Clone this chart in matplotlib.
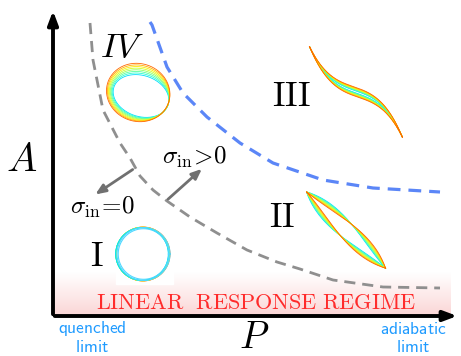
import numpy as np
import matplotlib
matplotlib.use("Agg")
import matplotlib.pyplot as plt
from matplotlib.colors import LinearSegmentedColormap

plt.rcParams['mathtext.fontset'] = 'cm'

# ============================================================
# SCHEMATIC DATA (canvas pixel coordinates, y pointing down)
# ============================================================
gray_x = [90, 93, 103, 120, 130, 140, 153, 167, 190, 217, 247, 277, 300, 333, 383, 440]
gray_y = [23, 60, 110, 143, 158, 176, 190, 201, 217, 233, 250, 262, 269, 280, 287, 288]

blue_x = [150, 152, 167, 183, 207, 240, 273, 323, 373, 440]
blue_y = [22, 25, 67, 93, 117, 143, 163, 180, 188, 192]

region_labels = [r'$\mathrm{I}$', r'$\mathrm{II}$', r'$\mathrm{III}$', r'$IV$']
region_x = [97, 282, 291, 122]
region_y = [256, 217, 96, 47]

# colour positions on the jet map, innermost (cyan) to outermost (orange)
loop_colors = [0.34, 0.4, 0.46, 0.53, 0.6, 0.66, 0.72, 0.8]

# ============================================================
# FIGURE
# ============================================================
fig = plt.figure(figsize=(4.61, 3.56), dpi=100)
ax = fig.add_axes([0, 0, 1, 1])
ax.set_xlim(0, 461)
ax.set_ylim(356, 0)
ax.axis('off')

cmap = plt.get_cmap('jet')

# pink linear-response band
pink = LinearSegmentedColormap.from_list('pk', ['#ffffff', '#fbd6d6'])
grad = np.linspace(0, 1, 100).reshape(-1, 1)
ax.imshow(grad, cmap=pink, extent=(55, 450, 316, 272), aspect='auto', zorder=0)
ax.text(256, 303, r'$\mathrm{LINEAR\ \ RESPONSE\ REGIME}$', color='#ff2b2b',
        fontsize=16, ha='center', va='center', zorder=3)

# axes arrows
ax.annotate('', xy=(53, 8), xytext=(53, 317),
            arrowprops=dict(arrowstyle='-|>,head_length=0.8,head_width=0.3', lw=2.8, color='black'))
ax.annotate('', xy=(460, 316), xytext=(52, 316),
            arrowprops=dict(arrowstyle='-|>,head_length=0.8,head_width=0.3', lw=2.8, color='black'))
ax.text(22, 160, r'$A$', fontsize=29, ha='center', va='center')
ax.text(254, 338, r'$P$', fontsize=27, ha='center', va='center')

for tx, ty, s in [(92, 329, 'quenched'), (92, 347, 'limit'),
                  (413, 329, 'adiabatic'), (413, 347, 'limit')]:
    ax.text(tx, ty, r'$\mathsf{' + s + '}$', color='#1f9bff', fontsize=12.5,
            ha='center', va='center')

# boundaries
ax.plot(gray_x, gray_y, color='#8f8f8f', lw=2.0, dashes=(4, 2.5), zorder=2)
ax.plot(blue_x, blue_y, color='#5b86f7', lw=2.3, dashes=(4, 2.5), zorder=2)

# labels
for lab, x, y in zip(region_labels, region_x, region_y):
    ax.text(x, y, lab, fontsize=25, ha='center', va='center')

ax.text(102, 207, r'$\sigma_{\mathrm{in}}\!=\!0$', fontsize=18, ha='center', va='center')
ax.text(194, 157, r'$\sigma_{\mathrm{in}}\!>\!0$', fontsize=18, ha='center', va='center')
ax.annotate('', xy=(93, 196), xytext=(135, 168),
            arrowprops=dict(arrowstyle='-|>,head_length=0.6,head_width=0.25', lw=2, color='#707070'))
ax.annotate('', xy=(204, 167), xytext=(166, 201),
            arrowprops=dict(arrowstyle='-|>,head_length=0.6,head_width=0.25', lw=2, color='#707070'))

th = np.linspace(0, 2 * np.pi, 300)
LW = 0.6

# I : circles with white patch
ax.add_patch(plt.Rectangle((116, 226), 57, 58, color='white', zorder=2))
for k, c in enumerate(loop_colors[::-1]):
    r = 27 - 0.1 * k
    ax.plot(143 - 0.15 * k + r * np.cos(th), 254 + r * np.sin(th), color=cmap(c), lw=LW, zorder=3)
for dr in (0, 1.2):
    ax.plot(143.5 + (26.5 - dr) * np.cos(th), 254 + (26.5 - dr) * np.sin(th),
            color='#4fd8ff', lw=0.8, zorder=3)

# IV : tilted ellipses
ang = np.deg2rad(18)
for k, c in enumerate(loop_colors):
    a, b = 28.5 + 0.5 * k, 20.5 + 1.2 * k
    u, v = a * np.cos(th), b * np.sin(th)
    ax.plot(141 - 0.4 * k + u * np.cos(ang) - v * np.sin(ang),
            96 - 0.5 * k + u * np.sin(ang) + v * np.cos(ang),
            color=cmap(c), lw=LW, zorder=3)

# III : S-shaped thin loops
u = np.linspace(-46.5, 46.5, 200)
base = 0.35 * u + 2.9e-4 * u ** 3
for k, c in enumerate(loop_colors):
    w = (1.0 + 0.5 * k) * (1 - (u / 46.5) ** 2)
    xs = np.concatenate([356 + u, 356 + u[::-1]])
    ys = np.concatenate([92 + base - w, 92 + base[::-1] + w[::-1]])
    ax.plot(xs, ys, color=cmap(c), lw=LW, zorder=3)

# II : lens loops along diagonal
L = 55
ang = np.deg2rad(44)
for k, c in enumerate(loop_colors):
    s = (k - 3.5) / 3.5
    lu = L * np.cos(th)
    lv = 8 * np.sin(th) * np.abs(np.sin(th)) + 3.0 * s * np.sin(2 * th) * np.abs(np.sin(th))
    ax.plot(346 + lu * np.cos(ang) - lv * np.sin(ang),
            230 + lu * np.sin(ang) + lv * np.cos(ang),
            color=cmap(c), lw=LW, zorder=3)

fig.savefig('out.png', dpi=100)
